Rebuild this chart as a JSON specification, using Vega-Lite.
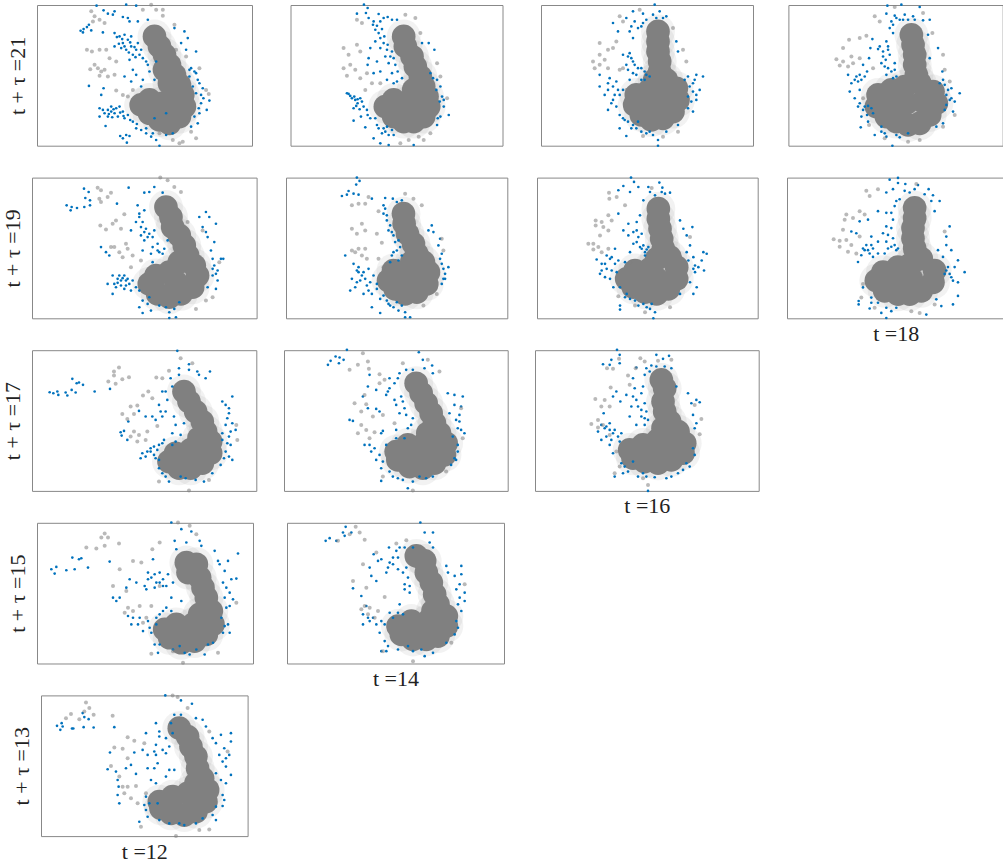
{"$schema":"https://vega.github.io/schema/vega-lite/v6.json","padding":{"left":0,"top":2,"right":0,"bottom":0},"background":"white",
"config":{"view":{"stroke":"#888888"},"axis":{"labels":false,"ticks":false,"domain":false,"grid":false,"titleFont":"Liberation Serif","titleFontSize":22,"titleFontWeight":"normal","titleColor":"#222222"},"axisX":{"titlePadding":5},"axisY":{"titlePadding":8},"style":{"halo":{"size":1150,"opacity":0.1,"color":"#808080"},"core":{"size":560,"opacity":1,"color":"#808080"},"blue":{"size":7,"opacity":1,"color":"#0072BD"},"grey":{"size":16,"opacity":0.55,"color":"#808080"}}},
"datasets":{
"c1":[{"x":465,"y":110},{"x":480,"y":140},{"x":495,"y":165},{"x":510,"y":195},{"x":525,"y":225},{"x":540,"y":255},{"x":550,"y":285},{"x":555,"y":320},{"x":540,"y":350},{"x":510,"y":370},{"x":480,"y":360},{"x":450,"y":340},{"x":425,"y":315},{"x":450,"y":300},{"x":490,"y":310},{"x":520,"y":300},{"x":510,"y":250},{"x":495,"y":210},{"x":515,"y":330}],
"b1":[{"x":243,"y":93},{"x":252,"y":88},{"x":268,"y":75},{"x":275,"y":92},{"x":250,"y":98},{"x":262,"y":82},{"x":310,"y":98},{"x":291,"y":18},{"x":380,"y":15},{"x":410,"y":18},{"x":312,"y":32},{"x":325,"y":42},{"x":345,"y":35},{"x":340,"y":45},{"x":370,"y":52},{"x":385,"y":55},{"x":390,"y":65},{"x":415,"y":65},{"x":445,"y":60},{"x":345,"y":100},{"x":360,"y":110},{"x":375,"y":105},{"x":385,"y":120},{"x":370,"y":130},{"x":395,"y":140},{"x":410,"y":150},{"x":380,"y":150},{"x":365,"y":145},{"x":420,"y":165},{"x":400,"y":165},{"x":430,"y":175},{"x":390,"y":180},{"x":345,"y":140},{"x":415,"y":130},{"x":440,"y":185},{"x":400,"y":210},{"x":410,"y":225},{"x":430,"y":240},{"x":450,"y":215},{"x":465,"y":240},{"x":395,"y":245},{"x":425,"y":260},{"x":445,"y":195},{"x":470,"y":185},{"x":375,"y":230},{"x":268,"y":258},{"x":312,"y":265},{"x":305,"y":285},{"x":525,"y":85},{"x":555,"y":95},{"x":565,"y":115},{"x":545,"y":130},{"x":560,"y":150},{"x":590,"y":155},{"x":575,"y":205},{"x":590,"y":220},{"x":600,"y":250},{"x":610,"y":265},{"x":590,"y":280},{"x":630,"y":302},{"x":605,"y":310},{"x":622,"y":330},{"x":600,"y":340},{"x":595,"y":370},{"x":570,"y":230},{"x":580,"y":260},{"x":300,"y":325},{"x":315,"y":340},{"x":325,"y":330},{"x":335,"y":320},{"x":350,"y":325},{"x":345,"y":340},{"x":360,"y":320},{"x":370,"y":335},{"x":355,"y":350},{"x":300,"y":350},{"x":325,"y":350},{"x":318,"y":378},{"x":385,"y":345},{"x":400,"y":365},{"x":410,"y":385},{"x":375,"y":355},{"x":362,"y":408},{"x":380,"y":405},{"x":390,"y":408},{"x":382,"y":428},{"x":370,"y":415},{"x":440,"y":400},{"x":455,"y":410},{"x":470,"y":420},{"x":480,"y":437},{"x":500,"y":405},{"x":520,"y":400},{"x":465,"y":355},{"x":500,"y":340},{"x":352,"y":112},{"x":368,"y":118},{"x":392,"y":128},{"x":405,"y":142},{"x":375,"y":140},{"x":388,"y":158},{"x":408,"y":172},{"x":425,"y":150},{"x":358,"y":132},{"x":395,"y":110},{"x":335,"y":335},{"x":342,"y":328},{"x":310,"y":330},{"x":328,"y":342},{"x":338,"y":352},{"x":362,"y":338},{"x":372,"y":348},{"x":392,"y":360},{"x":412,"y":372},{"x":425,"y":390},{"x":440,"y":385},{"x":460,"y":400},{"x":585,"y":215},{"x":595,"y":240},{"x":605,"y":285},{"x":612,"y":295},{"x":598,"y":325},{"x":585,"y":350},{"x":575,"y":380},{"x":570,"y":210}],
"g1":[{"x":275,"y":35},{"x":285,"y":50},{"x":300,"y":60},{"x":315,"y":70},{"x":280,"y":65},{"x":455,"y":15},{"x":430,"y":30},{"x":470,"y":30},{"x":490,"y":30},{"x":490,"y":48},{"x":525,"y":75},{"x":262,"y":150},{"x":277,"y":155},{"x":300,"y":150},{"x":320,"y":150},{"x":285,"y":195},{"x":295,"y":205},{"x":305,"y":215},{"x":325,"y":230},{"x":345,"y":225},{"x":350,"y":185},{"x":330,"y":175},{"x":272,"y":208},{"x":350,"y":272},{"x":370,"y":285},{"x":385,"y":290},{"x":400,"y":270},{"x":530,"y":150},{"x":560,"y":170},{"x":600,"y":205},{"x":620,"y":270},{"x":628,"y":282},{"x":550,"y":425},{"x":590,"y":415},{"x":575,"y":395},{"x":520,"y":420},{"x":540,"y":430},{"x":480,"y":400},{"x":300,"y":228},{"x":315,"y":210}],
"c2":[{"x":370,"y":110},{"x":375,"y":140},{"x":395,"y":170},{"x":405,"y":200},{"x":420,"y":230},{"x":430,"y":260},{"x":440,"y":290},{"x":445,"y":320},{"x":430,"y":350},{"x":400,"y":365},{"x":370,"y":365},{"x":340,"y":350},{"x":315,"y":320},{"x":340,"y":300},{"x":380,"y":310},{"x":400,"y":270},{"x":405,"y":330}],
"b2":[{"x":251,"y":15},{"x":262,"y":25},{"x":230,"y":42},{"x":257,"y":40},{"x":295,"y":43},{"x":265,"y":55},{"x":322,"y":52},{"x":350,"y":60},{"x":300,"y":65},{"x":285,"y":90},{"x":295,"y":100},{"x":285,"y":125},{"x":300,"y":115},{"x":310,"y":130},{"x":300,"y":145},{"x":320,"y":150},{"x":330,"y":170},{"x":325,"y":190},{"x":345,"y":195},{"x":335,"y":220},{"x":350,"y":245},{"x":320,"y":240},{"x":365,"y":235},{"x":270,"y":145},{"x":265,"y":175},{"x":290,"y":185},{"x":280,"y":220},{"x":300,"y":215},{"x":262,"y":195},{"x":445,"y":130},{"x":462,"y":150},{"x":425,"y":130},{"x":205,"y":282},{"x":200,"y":280},{"x":215,"y":295},{"x":225,"y":300},{"x":240,"y":295},{"x":232,"y":310},{"x":250,"y":320},{"x":220,"y":325},{"x":260,"y":330},{"x":242,"y":350},{"x":270,"y":355},{"x":220,"y":362},{"x":255,"y":382},{"x":280,"y":415},{"x":300,"y":430},{"x":325,"y":435},{"x":400,"y":435},{"x":290,"y":375},{"x":310,"y":385},{"x":325,"y":405},{"x":305,"y":400},{"x":335,"y":390},{"x":470,"y":375},{"x":480,"y":350},{"x":505,"y":345},{"x":490,"y":320},{"x":485,"y":290},{"x":470,"y":240},{"x":480,"y":260},{"x":450,"y":220},{"x":290,"y":78},{"x":305,"y":88},{"x":312,"y":110},{"x":322,"y":135},{"x":335,"y":155},{"x":315,"y":170},{"x":340,"y":175},{"x":352,"y":215},{"x":340,"y":250},{"x":210,"y":288},{"x":222,"y":290},{"x":232,"y":298},{"x":245,"y":305},{"x":228,"y":318},{"x":238,"y":328},{"x":262,"y":345},{"x":285,"y":355},{"x":295,"y":385},{"x":315,"y":395},{"x":320,"y":380},{"x":340,"y":405},{"x":490,"y":300},{"x":478,"y":305},{"x":468,"y":270},{"x":458,"y":235},{"x":472,"y":355},{"x":280,"y":65},{"x":310,"y":55},{"x":335,"y":60},{"x":278,"y":75}],
"g2":[{"x":230,"y":60},{"x":245,"y":70},{"x":375,"y":45},{"x":405,"y":55},{"x":420,"y":100},{"x":190,"y":145},{"x":205,"y":165},{"x":230,"y":135},{"x":240,"y":155},{"x":190,"y":205},{"x":210,"y":195},{"x":225,"y":210},{"x":240,"y":235},{"x":200,"y":228},{"x":260,"y":220},{"x":275,"y":250},{"x":300,"y":250},{"x":255,"y":270},{"x":470,"y":190},{"x":500,"y":295},{"x":430,"y":420},{"x":415,"y":410},{"x":360,"y":430},{"x":385,"y":420},{"x":480,"y":230},{"x":450,"y":400}],
"c3":[{"x":1135,"y":95},{"x":1135,"y":125},{"x":1135,"y":155},{"x":1140,"y":185},{"x":1140,"y":215},{"x":1160,"y":240},{"x":1190,"y":265},{"x":1195,"y":300},{"x":1180,"y":335},{"x":1150,"y":355},{"x":1115,"y":360},{"x":1085,"y":345},{"x":1065,"y":315},{"x":1070,"y":285},{"x":1110,"y":270},{"x":1125,"y":240},{"x":1140,"y":300},{"x":1110,"y":320}],
"b3":[{"x":1125,"y":15},{"x":1140,"y":35},{"x":1060,"y":35},{"x":1090,"y":42},{"x":1120,"y":45},{"x":1160,"y":50},{"x":1000,"y":70},{"x":1040,"y":55},{"x":1015,"y":95},{"x":1055,"y":80},{"x":1085,"y":80},{"x":1100,"y":60},{"x":1150,"y":55},{"x":1060,"y":115},{"x":1050,"y":160},{"x":1030,"y":165},{"x":1060,"y":185},{"x":1040,"y":195},{"x":1075,"y":205},{"x":1095,"y":215},{"x":1110,"y":230},{"x":1085,"y":240},{"x":1060,"y":220},{"x":1050,"y":240},{"x":960,"y":225},{"x":990,"y":235},{"x":1010,"y":245},{"x":960,"y":260},{"x":985,"y":270},{"x":975,"y":285},{"x":1005,"y":285},{"x":1030,"y":270},{"x":995,"y":310},{"x":985,"y":330},{"x":1010,"y":320},{"x":1020,"y":345},{"x":1035,"y":360},{"x":1060,"y":375},{"x":1075,"y":365},{"x":1020,"y":385},{"x":1040,"y":408},{"x":1100,"y":400},{"x":1120,"y":405},{"x":1135,"y":420},{"x":1135,"y":437},{"x":1160,"y":395},{"x":1195,"y":375},{"x":1240,"y":335},{"x":1225,"y":325},{"x":1250,"y":300},{"x":1260,"y":270},{"x":1270,"y":230},{"x":1250,"y":225},{"x":1240,"y":250},{"x":1225,"y":290},{"x":1215,"y":240},{"x":1190,"y":125},{"x":1195,"y":155},{"x":1045,"y":170},{"x":1055,"y":175},{"x":1065,"y":195},{"x":1085,"y":205},{"x":1070,"y":225},{"x":1100,"y":225},{"x":1095,"y":240},{"x":1045,"y":210},{"x":985,"y":250},{"x":1000,"y":260},{"x":1015,"y":270},{"x":1000,"y":300},{"x":1030,"y":355},{"x":1045,"y":365},{"x":1055,"y":385},{"x":1070,"y":385},{"x":1085,"y":395},{"x":1110,"y":395},{"x":1230,"y":260},{"x":1240,"y":275},{"x":1250,"y":285},{"x":1235,"y":305},{"x":1245,"y":240},{"x":1225,"y":230},{"x":1075,"y":85},{"x":1090,"y":70},{"x":1130,"y":55},{"x":1065,"y":65},{"x":1050,"y":95},{"x":1020,"y":285}],
"g3":[{"x":1020,"y":50},{"x":1030,"y":65},{"x":1080,"y":30},{"x":960,"y":130},{"x":985,"y":150},{"x":1000,"y":145},{"x":960,"y":165},{"x":940,"y":185},{"x":960,"y":195},{"x":985,"y":205},{"x":975,"y":180},{"x":945,"y":205},{"x":1020,"y":210},{"x":1010,"y":125},{"x":1030,"y":205},{"x":1210,"y":150},{"x":1220,"y":185},{"x":1180,"y":85},{"x":1090,"y":408},{"x":1150,"y":410},{"x":1195,"y":395},{"x":1040,"y":270}],
"c4":[{"x":395,"y":105},{"x":400,"y":135},{"x":405,"y":165},{"x":405,"y":195},{"x":410,"y":225},{"x":420,"y":250},{"x":460,"y":275},{"x":470,"y":310},{"x":450,"y":345},{"x":420,"y":370},{"x":385,"y":375},{"x":350,"y":365},{"x":320,"y":350},{"x":290,"y":320},{"x":295,"y":285},{"x":335,"y":270},{"x":375,"y":260},{"x":380,"y":310},{"x":430,"y":305},{"x":335,"y":315}],
"b4":[{"x":323,"y":18},{"x":365,"y":15},{"x":420,"y":22},{"x":320,"y":42},{"x":345,"y":48},{"x":375,"y":45},{"x":335,"y":65},{"x":360,"y":60},{"x":405,"y":60},{"x":430,"y":62},{"x":450,"y":60},{"x":330,"y":85},{"x":340,"y":100},{"x":320,"y":125},{"x":300,"y":140},{"x":310,"y":155},{"x":330,"y":165},{"x":272,"y":145},{"x":295,"y":148},{"x":318,"y":180},{"x":345,"y":190},{"x":335,"y":215},{"x":320,"y":225},{"x":350,"y":230},{"x":278,"y":118},{"x":268,"y":175},{"x":250,"y":195},{"x":230,"y":230},{"x":205,"y":225},{"x":245,"y":240},{"x":262,"y":215},{"x":215,"y":250},{"x":210,"y":275},{"x":240,"y":270},{"x":225,"y":295},{"x":235,"y":320},{"x":250,"y":330},{"x":275,"y":325},{"x":245,"y":350},{"x":265,"y":365},{"x":243,"y":382},{"x":285,"y":405},{"x":305,"y":395},{"x":320,"y":410},{"x":360,"y":412},{"x":338,"y":437},{"x":385,"y":400},{"x":495,"y":255},{"x":515,"y":265},{"x":540,"y":280},{"x":515,"y":295},{"x":525,"y":305},{"x":520,"y":335},{"x":500,"y":315},{"x":475,"y":145},{"x":445,"y":105},{"x":450,"y":175},{"x":490,"y":370},{"x":470,"y":380},{"x":490,"y":240},{"x":488,"y":215},{"x":325,"y":140},{"x":310,"y":170},{"x":325,"y":150},{"x":305,"y":190},{"x":325,"y":205},{"x":345,"y":210},{"x":315,"y":200},{"x":340,"y":235},{"x":240,"y":225},{"x":225,"y":240},{"x":235,"y":245},{"x":255,"y":230},{"x":240,"y":310},{"x":255,"y":320},{"x":265,"y":318},{"x":280,"y":340},{"x":262,"y":345},{"x":305,"y":380},{"x":315,"y":400},{"x":350,"y":405},{"x":500,"y":285},{"x":510,"y":300},{"x":495,"y":330},{"x":505,"y":270},{"x":480,"y":250},{"x":400,"y":50},{"x":385,"y":60},{"x":350,"y":55},{"x":340,"y":75},{"x":370,"y":60}],
"g4":[{"x":285,"y":50},{"x":300,"y":65},{"x":345,"y":22},{"x":430,"y":40},{"x":458,"y":100},{"x":208,"y":120},{"x":240,"y":115},{"x":260,"y":108},{"x":190,"y":145},{"x":170,"y":178},{"x":190,"y":185},{"x":205,"y":200},{"x":180,"y":197},{"x":220,"y":190},{"x":215,"y":170},{"x":240,"y":175},{"x":280,"y":205},{"x":490,"y":165},{"x":495,"y":210},{"x":510,"y":245},{"x":385,"y":425},{"x":420,"y":420},{"x":315,"y":415},{"x":490,"y":380},{"x":525,"y":345},{"x":250,"y":295},{"x":268,"y":375}],
"c5":[{"x":500,"y":105},{"x":515,"y":135},{"x":520,"y":165},{"x":540,"y":190},{"x":555,"y":220},{"x":565,"y":250},{"x":585,"y":280},{"x":595,"y":310},{"x":580,"y":345},{"x":545,"y":365},{"x":510,"y":375},{"x":475,"y":365},{"x":450,"y":335},{"x":470,"y":310},{"x":510,"y":300},{"x":540,"y":270},{"x":530,"y":330}],
"b5":[{"x":254,"y":50},{"x":268,"y":60},{"x":258,"y":78},{"x":272,"y":85},{"x":202,"y":100},{"x":217,"y":105},{"x":214,"y":115},{"x":233,"y":108},{"x":255,"y":105},{"x":272,"y":100},{"x":353,"y":95},{"x":388,"y":47},{"x":435,"y":62},{"x":465,"y":45},{"x":450,"y":60},{"x":490,"y":62},{"x":415,"y":100},{"x":435,"y":115},{"x":410,"y":150},{"x":425,"y":165},{"x":435,"y":180},{"x":450,"y":185},{"x":395,"y":175},{"x":435,"y":205},{"x":460,"y":195},{"x":475,"y":215},{"x":430,"y":235},{"x":455,"y":245},{"x":480,"y":240},{"x":495,"y":230},{"x":505,"y":205},{"x":460,"y":270},{"x":620,"y":120},{"x":630,"y":135},{"x":650,"y":155},{"x":600,"y":135},{"x":620,"y":180},{"x":645,"y":210},{"x":665,"y":260},{"x":672,"y":260},{"x":640,"y":290},{"x":650,"y":305},{"x":655,"y":325},{"x":650,"y":350},{"x":625,"y":345},{"x":305,"y":225},{"x":320,"y":240},{"x":330,"y":250},{"x":340,"y":310},{"x":355,"y":320},{"x":375,"y":310},{"x":385,"y":320},{"x":400,"y":325},{"x":345,"y":335},{"x":325,"y":335},{"x":365,"y":340},{"x":340,"y":365},{"x":395,"y":355},{"x":380,"y":340},{"x":420,"y":355},{"x":420,"y":405},{"x":445,"y":395},{"x":430,"y":422},{"x":455,"y":415},{"x":510,"y":437},{"x":530,"y":435},{"x":480,"y":400},{"x":510,"y":420},{"x":540,"y":390},{"x":420,"y":135},{"x":430,"y":150},{"x":440,"y":170},{"x":445,"y":195},{"x":465,"y":175},{"x":425,"y":190},{"x":475,"y":235},{"x":490,"y":245},{"x":460,"y":225},{"x":420,"y":125},{"x":360,"y":310},{"x":370,"y":318},{"x":380,"y":325},{"x":390,"y":335},{"x":355,"y":332},{"x":365,"y":325},{"x":375,"y":350},{"x":350,"y":345},{"x":410,"y":345},{"x":430,"y":385},{"x":450,"y":375},{"x":640,"y":260},{"x":645,"y":280},{"x":655,"y":295},{"x":640,"y":310},{"x":635,"y":235},{"x":610,"y":165},{"x":625,"y":195},{"x":500,"y":405},{"x":525,"y":410}],
"g5":[{"x":483,"y":17},{"x":505,"y":25},{"x":525,"y":45},{"x":545,"y":60},{"x":295,"y":47},{"x":305,"y":55},{"x":335,"y":62},{"x":300,"y":80},{"x":325,"y":75},{"x":305,"y":90},{"x":375,"y":127},{"x":350,"y":145},{"x":303,"y":160},{"x":320,"y":172},{"x":340,"y":155},{"x":365,"y":170},{"x":345,"y":225},{"x":360,"y":240},{"x":335,"y":225},{"x":370,"y":255},{"x":385,"y":230},{"x":400,"y":250},{"x":425,"y":265},{"x":395,"y":285},{"x":380,"y":215},{"x":590,"y":410},{"x":620,"y":385},{"x":640,"y":375},{"x":565,"y":150},{"x":610,"y":175},{"x":660,"y":270}],
"c6":[{"x":1210,"y":125},{"x":1212,"y":155},{"x":1222,"y":185},{"x":1240,"y":215},{"x":1250,"y":245},{"x":1270,"y":270},{"x":1285,"y":300},{"x":1280,"y":335},{"x":1250,"y":360},{"x":1215,"y":365},{"x":1185,"y":350},{"x":1165,"y":325},{"x":1180,"y":295},{"x":1220,"y":300},{"x":1235,"y":270},{"x":1235,"y":330}],
"b6":[{"x":1070,"y":17},{"x":1078,"y":27},{"x":1068,"y":38},{"x":1045,"y":57},{"x":1025,"y":72},{"x":1040,"y":68},{"x":1060,"y":65},{"x":1075,"y":68},{"x":1115,"y":80},{"x":1155,"y":78},{"x":1178,"y":80},{"x":1150,"y":125},{"x":1160,"y":145},{"x":1165,"y":175},{"x":1180,"y":190},{"x":1195,"y":205},{"x":1180,"y":240},{"x":1205,"y":250},{"x":1195,"y":265},{"x":1170,"y":270},{"x":1295,"y":160},{"x":1285,"y":175},{"x":1320,"y":200},{"x":1345,"y":285},{"x":1325,"y":275},{"x":1330,"y":320},{"x":1335,"y":305},{"x":1035,"y":250},{"x":1060,"y":275},{"x":1075,"y":285},{"x":1090,"y":300},{"x":1105,"y":290},{"x":1120,"y":310},{"x":1055,"y":320},{"x":1080,"y":325},{"x":1100,"y":340},{"x":1065,"y":345},{"x":1050,"y":355},{"x":1090,"y":365},{"x":1115,"y":365},{"x":1130,"y":350},{"x":1140,"y":380},{"x":1160,"y":385},{"x":1115,"y":405},{"x":1140,"y":422},{"x":1170,"y":400},{"x":1195,"y":415},{"x":1215,"y":435},{"x":1230,"y":435},{"x":1190,"y":390},{"x":1325,"y":335},{"x":1155,"y":110},{"x":1160,"y":130},{"x":1170,"y":160},{"x":1175,"y":180},{"x":1185,"y":210},{"x":1190,"y":235},{"x":1200,"y":225},{"x":1175,"y":250},{"x":1070,"y":295},{"x":1085,"y":310},{"x":1075,"y":300},{"x":1095,"y":320},{"x":1110,"y":330},{"x":1130,"y":335},{"x":1070,"y":330},{"x":1105,"y":355},{"x":1150,"y":370},{"x":1165,"y":395},{"x":1180,"y":405},{"x":1205,"y":400},{"x":1215,"y":420},{"x":1320,"y":260},{"x":1330,"y":290},{"x":1335,"y":320},{"x":1300,"y":180},{"x":1315,"y":220},{"x":1325,"y":245},{"x":1150,"y":100},{"x":1190,"y":90},{"x":1205,"y":85}],
"g6":[{"x":1055,"y":100},{"x":1075,"y":95},{"x":1095,"y":95},{"x":1105,"y":75},{"x":1215,"y":65},{"x":1240,"y":80},{"x":1135,"y":118},{"x":1085,"y":155},{"x":1055,"y":170},{"x":1070,"y":185},{"x":1095,"y":175},{"x":1130,"y":185},{"x":1145,"y":212},{"x":1055,"y":235},{"x":1075,"y":230},{"x":1095,"y":230},{"x":1085,"y":250},{"x":1100,"y":260},{"x":1065,"y":240},{"x":1135,"y":260},{"x":1150,"y":285},{"x":1265,"y":100},{"x":1325,"y":200},{"x":1330,"y":235},{"x":1270,"y":400},{"x":1310,"y":365}],
"c7":[{"x":385,"y":110},{"x":385,"y":140},{"x":390,"y":170},{"x":395,"y":200},{"x":400,"y":230},{"x":420,"y":255},{"x":440,"y":285},{"x":440,"y":320},{"x":415,"y":350},{"x":380,"y":365},{"x":345,"y":360},{"x":310,"y":345},{"x":290,"y":320},{"x":315,"y":295},{"x":360,"y":290},{"x":380,"y":260},{"x":380,"y":320},{"x":340,"y":325}],
"b7":[{"x":303,"y":17},{"x":312,"y":30},{"x":280,"y":42},{"x":265,"y":55},{"x":300,"y":60},{"x":325,"y":45},{"x":355,"y":45},{"x":388,"y":32},{"x":397,"y":47},{"x":420,"y":62},{"x":375,"y":70},{"x":340,"y":85},{"x":265,"y":125},{"x":295,"y":155},{"x":310,"y":180},{"x":295,"y":190},{"x":280,"y":175},{"x":325,"y":195},{"x":310,"y":215},{"x":335,"y":230},{"x":345,"y":240},{"x":330,"y":225},{"x":300,"y":240},{"x":255,"y":230},{"x":240,"y":260},{"x":200,"y":262},{"x":225,"y":275},{"x":255,"y":275},{"x":215,"y":295},{"x":245,"y":295},{"x":225,"y":315},{"x":210,"y":305},{"x":240,"y":320},{"x":250,"y":345},{"x":270,"y":345},{"x":285,"y":375},{"x":300,"y":380},{"x":270,"y":400},{"x":270,"y":412},{"x":325,"y":400},{"x":360,"y":410},{"x":375,"y":420},{"x":370,"y":438},{"x":450,"y":365},{"x":490,"y":365},{"x":500,"y":345},{"x":490,"y":290},{"x":495,"y":280},{"x":515,"y":265},{"x":520,"y":240},{"x":530,"y":245},{"x":522,"y":295},{"x":450,"y":145},{"x":487,"y":165},{"x":470,"y":190},{"x":480,"y":220},{"x":470,"y":240},{"x":320,"y":175},{"x":335,"y":185},{"x":320,"y":210},{"x":340,"y":220},{"x":350,"y":232},{"x":355,"y":225},{"x":345,"y":250},{"x":320,"y":150},{"x":330,"y":130},{"x":230,"y":250},{"x":245,"y":255},{"x":265,"y":265},{"x":285,"y":270},{"x":230,"y":290},{"x":260,"y":300},{"x":215,"y":275},{"x":290,"y":365},{"x":315,"y":385},{"x":340,"y":395},{"x":350,"y":405},{"x":365,"y":395},{"x":490,"y":255},{"x":495,"y":300},{"x":505,"y":285},{"x":480,"y":330},{"x":475,"y":265},{"x":460,"y":170},{"x":395,"y":60},{"x":405,"y":65},{"x":360,"y":60}],
"g7":[{"x":237,"y":62},{"x":238,"y":80},{"x":260,"y":75},{"x":285,"y":100},{"x":365,"y":48},{"x":197,"y":145},{"x":215,"y":150},{"x":197,"y":160},{"x":235,"y":130},{"x":245,"y":145},{"x":220,"y":165},{"x":235,"y":175},{"x":210,"y":190},{"x":175,"y":215},{"x":190,"y":215},{"x":205,"y":225},{"x":190,"y":232},{"x":215,"y":240},{"x":235,"y":230},{"x":480,"y":195},{"x":420,"y":405},{"x":345,"y":420},{"x":315,"y":400},{"x":265,"y":372},{"x":300,"y":270}],
"c8":[{"x":430,"y":115},{"x":430,"y":145},{"x":425,"y":175},{"x":425,"y":205},{"x":430,"y":235},{"x":450,"y":265},{"x":490,"y":300},{"x":485,"y":335},{"x":450,"y":360},{"x":415,"y":370},{"x":380,"y":370},{"x":340,"y":360},{"x":315,"y":330},{"x":335,"y":305},{"x":380,"y":290},{"x":420,"y":280},{"x":420,"y":325},{"x":375,"y":330}],
"b8":[{"x":355,"y":32},{"x":380,"y":27},{"x":402,"y":45},{"x":345,"y":70},{"x":365,"y":60},{"x":380,"y":42},{"x":415,"y":70},{"x":440,"y":48},{"x":472,"y":60},{"x":485,"y":78},{"x":505,"y":95},{"x":375,"y":95},{"x":385,"y":90},{"x":320,"y":125},{"x":290,"y":150},{"x":265,"y":155},{"x":255,"y":190},{"x":240,"y":185},{"x":345,"y":130},{"x":365,"y":150},{"x":335,"y":190},{"x":300,"y":200},{"x":320,"y":215},{"x":360,"y":230},{"x":375,"y":240},{"x":350,"y":235},{"x":300,"y":225},{"x":280,"y":240},{"x":270,"y":255},{"x":295,"y":250},{"x":320,"y":250},{"x":260,"y":275},{"x":490,"y":125},{"x":535,"y":170},{"x":525,"y":200},{"x":540,"y":240},{"x":550,"y":290},{"x":560,"y":270},{"x":540,"y":320},{"x":580,"y":305},{"x":560,"y":335},{"x":520,"y":310},{"x":560,"y":375},{"x":510,"y":405},{"x":545,"y":400},{"x":495,"y":385},{"x":262,"y":390},{"x":262,"y":400},{"x":295,"y":412},{"x":345,"y":440},{"x":330,"y":425},{"x":360,"y":420},{"x":465,"y":430},{"x":300,"y":380},{"x":275,"y":350},{"x":360,"y":175},{"x":350,"y":195},{"x":365,"y":205},{"x":370,"y":225},{"x":380,"y":235},{"x":345,"y":215},{"x":340,"y":250},{"x":285,"y":225},{"x":290,"y":240},{"x":305,"y":235},{"x":275,"y":235},{"x":305,"y":260},{"x":345,"y":170},{"x":360,"y":130},{"x":370,"y":110},{"x":525,"y":300},{"x":535,"y":310},{"x":545,"y":330},{"x":530,"y":290},{"x":515,"y":260},{"x":525,"y":225},{"x":500,"y":240},{"x":300,"y":395},{"x":320,"y":395},{"x":345,"y":410},{"x":375,"y":410},{"x":400,"y":65},{"x":430,"y":60},{"x":460,"y":75},{"x":480,"y":95}],
"g8":[{"x":285,"y":65},{"x":295,"y":80},{"x":320,"y":60},{"x":435,"y":45},{"x":225,"y":135},{"x":265,"y":125},{"x":220,"y":150},{"x":245,"y":145},{"x":280,"y":135},{"x":215,"y":180},{"x":187,"y":208},{"x":205,"y":212},{"x":225,"y":210},{"x":240,"y":225},{"x":205,"y":230},{"x":230,"y":245},{"x":265,"y":200},{"x":255,"y":250},{"x":520,"y":185},{"x":275,"y":340},{"x":270,"y":380},{"x":310,"y":410},{"x":420,"y":420},{"x":445,"y":425},{"x":490,"y":400}],
"c9":[{"x":555,"y":140},{"x":570,"y":170},{"x":590,"y":200},{"x":610,"y":230},{"x":620,"y":260},{"x":635,"y":290},{"x":635,"y":325},{"x":610,"y":355},{"x":575,"y":370},{"x":540,"y":370},{"x":510,"y":350},{"x":530,"y":325},{"x":575,"y":315},{"x":600,"y":280},{"x":590,"y":335}],
"b9":[{"x":535,"y":18},{"x":152,"y":142},{"x":163,"y":145},{"x":175,"y":140},{"x":178,"y":150},{"x":200,"y":143},{"x":205,"y":152},{"x":218,"y":135},{"x":230,"y":143},{"x":220,"y":102},{"x":233,"y":115},{"x":240,"y":113},{"x":252,"y":120},{"x":287,"y":140},{"x":333,"y":132},{"x":365,"y":262},{"x":375,"y":258},{"x":368,"y":272},{"x":385,"y":285},{"x":388,"y":230},{"x":420,"y":198},{"x":440,"y":215},{"x":460,"y":215},{"x":470,"y":225},{"x":490,"y":215},{"x":490,"y":140},{"x":515,"y":100},{"x":540,"y":70},{"x":570,"y":58},{"x":600,"y":90},{"x":633,"y":80},{"x":430,"y":325},{"x":425,"y":340},{"x":440,"y":335},{"x":455,"y":310},{"x":475,"y":315},{"x":465,"y":330},{"x":480,"y":345},{"x":495,"y":285},{"x":530,"y":240},{"x":555,"y":235},{"x":520,"y":265},{"x":545,"y":270},{"x":525,"y":215},{"x":700,"y":155},{"x":690,"y":190},{"x":670,"y":170},{"x":685,"y":220},{"x":700,"y":235},{"x":710,"y":255},{"x":690,"y":275},{"x":695,"y":300},{"x":680,"y":320},{"x":700,"y":345},{"x":670,"y":265},{"x":490,"y":385},{"x":500,"y":395},{"x":590,"y":405},{"x":640,"y":385},{"x":615,"y":410},{"x":545,"y":395},{"x":455,"y":320},{"x":465,"y":305},{"x":470,"y":340},{"x":445,"y":320},{"x":480,"y":300},{"x":490,"y":295},{"x":500,"y":200},{"x":485,"y":200},{"x":480,"y":180},{"x":505,"y":165},{"x":540,"y":90},{"x":520,"y":125},{"x":500,"y":140},{"x":680,"y":180},{"x":690,"y":205},{"x":680,"y":240},{"x":695,"y":260},{"x":670,"y":285},{"x":685,"y":295},{"x":690,"y":335},{"x":675,"y":340},{"x":665,"y":360},{"x":480,"y":370},{"x":510,"y":410},{"x":560,"y":400},{"x":595,"y":80},{"x":570,"y":75},{"x":620,"y":100},{"x":530,"y":290},{"x":520,"y":300}],
"g9":[{"x":580,"y":55},{"x":545,"y":40},{"x":510,"y":78},{"x":345,"y":80},{"x":360,"y":68},{"x":345,"y":92},{"x":370,"y":103},{"x":328,"y":110},{"x":350,"y":117},{"x":390,"y":97},{"x":472,"y":98},{"x":490,"y":100},{"x":448,"y":140},{"x":432,"y":152},{"x":460,"y":160},{"x":415,"y":182},{"x":395,"y":185},{"x":370,"y":207},{"x":405,"y":207},{"x":385,"y":222},{"x":405,"y":260},{"x":420,"y":270},{"x":440,"y":285},{"x":415,"y":290},{"x":395,"y":275},{"x":445,"y":260},{"x":475,"y":243},{"x":715,"y":285},{"x":570,"y":437},{"x":480,"y":410},{"x":630,"y":405},{"x":712,"y":240}],
"c10":[{"x":1250,"y":115},{"x":1265,"y":145},{"x":1280,"y":175},{"x":1295,"y":205},{"x":1305,"y":235},{"x":1320,"y":265},{"x":1340,"y":295},{"x":1335,"y":330},{"x":1305,"y":355},{"x":1270,"y":370},{"x":1230,"y":365},{"x":1195,"y":345},{"x":1190,"y":320},{"x":1225,"y":300},{"x":1270,"y":300},{"x":1285,"y":265},{"x":1300,"y":330},{"x":1240,"y":335}],
"b10":[{"x":1042,"y":15},{"x":1008,"y":35},{"x":1020,"y":38},{"x":1032,"y":45},{"x":993,"y":48},{"x":985,"y":60},{"x":1018,"y":55},{"x":1258,"y":22},{"x":1270,"y":45},{"x":1298,"y":62},{"x":1110,"y":90},{"x":1105,"y":125},{"x":1130,"y":135},{"x":1090,"y":155},{"x":1160,"y":150},{"x":1195,"y":100},{"x":1240,"y":75},{"x":1170,"y":130},{"x":1185,"y":165},{"x":1210,"y":170},{"x":1215,"y":190},{"x":1240,"y":220},{"x":1235,"y":240},{"x":1200,"y":205},{"x":1105,"y":190},{"x":1130,"y":192},{"x":1050,"y":225},{"x":1060,"y":228},{"x":1150,"y":258},{"x":1190,"y":255},{"x":1215,"y":280},{"x":1130,"y":345},{"x":1115,"y":320},{"x":1095,"y":300},{"x":1160,"y":300},{"x":1145,"y":370},{"x":1145,"y":408},{"x":1195,"y":400},{"x":1225,"y":430},{"x":1260,"y":395},{"x":1300,"y":395},{"x":1365,"y":340},{"x":1390,"y":155},{"x":1385,"y":185},{"x":1365,"y":150},{"x":1345,"y":145},{"x":1350,"y":205},{"x":1380,"y":230},{"x":1395,"y":265},{"x":1375,"y":250},{"x":1360,"y":275},{"x":1375,"y":320},{"x":1170,"y":100},{"x":1185,"y":115},{"x":1165,"y":140},{"x":1205,"y":155},{"x":1190,"y":180},{"x":1220,"y":210},{"x":1225,"y":250},{"x":1140,"y":200},{"x":1190,"y":280},{"x":1145,"y":265},{"x":1125,"y":310},{"x":1110,"y":300},{"x":1140,"y":330},{"x":1150,"y":350},{"x":1170,"y":380},{"x":1180,"y":395},{"x":1210,"y":405},{"x":1240,"y":410},{"x":1280,"y":400},{"x":1380,"y":210},{"x":1365,"y":180},{"x":1370,"y":225},{"x":1385,"y":255},{"x":1375,"y":300},{"x":1370,"y":345},{"x":1355,"y":360},{"x":1200,"y":85},{"x":1220,"y":75},{"x":1275,"y":70},{"x":1300,"y":85}],
"g10":[{"x":1090,"y":25},{"x":1105,"y":50},{"x":1075,"y":60},{"x":1050,"y":75},{"x":1108,"y":72},{"x":1140,"y":88},{"x":1155,"y":105},{"x":1140,"y":115},{"x":1095,"y":150},{"x":1065,"y":175},{"x":1100,"y":178},{"x":1085,"y":200},{"x":1120,"y":215},{"x":1150,"y":210},{"x":1085,"y":240},{"x":1100,"y":255},{"x":1075,"y":265},{"x":1125,"y":262},{"x":1110,"y":280},{"x":1185,"y":235},{"x":1210,"y":55},{"x":1285,"y":45},{"x":1320,"y":80},{"x":1385,"y":190},{"x":1390,"y":280},{"x":1240,"y":437},{"x":1150,"y":395},{"x":1340,"y":380}],
"c11":[{"x":395,"y":105},{"x":405,"y":130},{"x":400,"y":170},{"x":405,"y":200},{"x":420,"y":230},{"x":445,"y":260},{"x":465,"y":295},{"x":460,"y":325},{"x":425,"y":345},{"x":385,"y":355},{"x":345,"y":350},{"x":310,"y":340},{"x":300,"y":315},{"x":340,"y":300},{"x":385,"y":285},{"x":400,"y":250},{"x":410,"y":315},{"x":360,"y":325}],
"b11":[{"x":262,"y":15},{"x":270,"y":30},{"x":245,"y":45},{"x":220,"y":58},{"x":240,"y":60},{"x":270,"y":55},{"x":320,"y":68},{"x":350,"y":70},{"x":345,"y":90},{"x":380,"y":30},{"x":400,"y":42},{"x":418,"y":33},{"x":365,"y":62},{"x":310,"y":100},{"x":250,"y":155},{"x":260,"y":140},{"x":272,"y":170},{"x":290,"y":150},{"x":305,"y":185},{"x":315,"y":130},{"x":340,"y":125},{"x":320,"y":165},{"x":350,"y":200},{"x":335,"y":215},{"x":345,"y":240},{"x":320,"y":240},{"x":300,"y":215},{"x":222,"y":205},{"x":240,"y":235},{"x":225,"y":250},{"x":205,"y":260},{"x":255,"y":255},{"x":275,"y":265},{"x":215,"y":285},{"x":240,"y":300},{"x":250,"y":325},{"x":270,"y":290},{"x":255,"y":395},{"x":285,"y":365},{"x":310,"y":350},{"x":325,"y":395},{"x":375,"y":397},{"x":355,"y":438},{"x":410,"y":400},{"x":460,"y":375},{"x":480,"y":365},{"x":495,"y":330},{"x":500,"y":235},{"x":510,"y":172},{"x":485,"y":175},{"x":500,"y":165},{"x":440,"y":125},{"x":335,"y":145},{"x":325,"y":185},{"x":345,"y":175},{"x":335,"y":195},{"x":345,"y":220},{"x":355,"y":225},{"x":310,"y":155},{"x":215,"y":240},{"x":230,"y":245},{"x":240,"y":255},{"x":250,"y":265},{"x":265,"y":275},{"x":230,"y":275},{"x":245,"y":285},{"x":275,"y":355},{"x":280,"y":385},{"x":295,"y":380},{"x":340,"y":385},{"x":350,"y":395},{"x":425,"y":395},{"x":445,"y":385},{"x":470,"y":355},{"x":490,"y":310},{"x":495,"y":250},{"x":490,"y":210},{"x":475,"y":145},{"x":380,"y":65},{"x":405,"y":65},{"x":425,"y":70},{"x":360,"y":80}],
"g11":[{"x":232,"y":70},{"x":250,"y":72},{"x":268,"y":42},{"x":332,"y":40},{"x":345,"y":50},{"x":385,"y":48},{"x":425,"y":45},{"x":318,"y":70},{"x":295,"y":92},{"x":300,"y":120},{"x":243,"y":128},{"x":197,"y":162},{"x":225,"y":165},{"x":240,"y":185},{"x":215,"y":185},{"x":185,"y":237},{"x":205,"y":225},{"x":220,"y":240},{"x":205,"y":248},{"x":240,"y":270},{"x":260,"y":320},{"x":255,"y":385},{"x":270,"y":365},{"x":355,"y":420},{"x":515,"y":222},{"x":510,"y":268},{"x":495,"y":180},{"x":340,"y":400}],
"c12":[{"x":560,"y":135},{"x":590,"y":140},{"x":600,"y":180},{"x":610,"y":210},{"x":620,"y":240},{"x":635,"y":280},{"x":640,"y":320},{"x":620,"y":350},{"x":585,"y":370},{"x":545,"y":375},{"x":510,"y":360},{"x":495,"y":335},{"x":530,"y":320},{"x":580,"y":320},{"x":600,"y":290},{"x":565,"y":165}],
"b12":[{"x":515,"y":15},{"x":545,"y":35},{"x":575,"y":42},{"x":155,"y":155},{"x":165,"y":168},{"x":170,"y":148},{"x":200,"y":158},{"x":225,"y":155},{"x":218,"y":120},{"x":238,"y":125},{"x":245,"y":122},{"x":265,"y":150},{"x":330,"y":132},{"x":340,"y":240},{"x":350,"y":250},{"x":360,"y":240},{"x":380,"y":210},{"x":410,"y":195},{"x":390,"y":185},{"x":445,"y":165},{"x":460,"y":125},{"x":445,"y":185},{"x":470,"y":195},{"x":490,"y":205},{"x":440,"y":215},{"x":480,"y":165},{"x":505,"y":170},{"x":520,"y":195},{"x":525,"y":70},{"x":605,"y":85},{"x":645,"y":100},{"x":715,"y":108},{"x":660,"y":140},{"x":685,"y":130},{"x":695,"y":185},{"x":710,"y":183},{"x":680,"y":210},{"x":700,"y":245},{"x":675,"y":240},{"x":690,"y":265},{"x":665,"y":300},{"x":685,"y":320},{"x":690,"y":345},{"x":385,"y":295},{"x":395,"y":320},{"x":420,"y":300},{"x":430,"y":340},{"x":455,"y":345},{"x":470,"y":320},{"x":490,"y":280},{"x":515,"y":280},{"x":545,"y":250},{"x":465,"y":380},{"x":475,"y":405},{"x":540,"y":385},{"x":570,"y":410},{"x":615,"y":410},{"x":640,"y":375},{"x":455,"y":180},{"x":465,"y":170},{"x":480,"y":195},{"x":490,"y":185},{"x":465,"y":210},{"x":435,"y":205},{"x":500,"y":205},{"x":515,"y":240},{"x":480,"y":290},{"x":500,"y":270},{"x":470,"y":300},{"x":445,"y":310},{"x":400,"y":300},{"x":415,"y":320},{"x":450,"y":330},{"x":675,"y":160},{"x":670,"y":195},{"x":690,"y":225},{"x":680,"y":270},{"x":675,"y":325},{"x":670,"y":345},{"x":655,"y":130},{"x":530,"y":95},{"x":560,"y":75},{"x":600,"y":70},{"x":480,"y":380},{"x":520,"y":395},{"x":590,"y":395},{"x":555,"y":405},{"x":625,"y":380}],
"g12":[{"x":535,"y":15},{"x":570,"y":25},{"x":590,"y":50},{"x":305,"y":60},{"x":315,"y":48},{"x":325,"y":60},{"x":315,"y":85},{"x":260,"y":90},{"x":290,"y":93},{"x":358,"y":78},{"x":458,"y":95},{"x":480,"y":75},{"x":425,"y":135},{"x":400,"y":130},{"x":360,"y":155},{"x":340,"y":205},{"x":380,"y":220},{"x":385,"y":270},{"x":400,"y":280},{"x":420,"y":265},{"x":375,"y":285},{"x":440,"y":300},{"x":430,"y":315},{"x":455,"y":265},{"x":480,"y":205},{"x":550,"y":435},{"x":520,"y":400},{"x":455,"y":408},{"x":655,"y":405},{"x":710,"y":255}],
"c13":[{"x":1250,"y":115},{"x":1275,"y":130},{"x":1280,"y":165},{"x":1295,"y":195},{"x":1305,"y":230},{"x":1315,"y":260},{"x":1340,"y":295},{"x":1340,"y":325},{"x":1315,"y":355},{"x":1280,"y":365},{"x":1240,"y":365},{"x":1205,"y":350},{"x":1195,"y":325},{"x":1235,"y":310},{"x":1285,"y":310},{"x":1300,"y":280},{"x":1255,"y":340}],
"b13":[{"x":1262,"y":15},{"x":1038,"y":28},{"x":1055,"y":45},{"x":1030,"y":45},{"x":1035,"y":55},{"x":978,"y":70},{"x":990,"y":62},{"x":1010,"y":70},{"x":1275,"y":45},{"x":1300,"y":45},{"x":1168,"y":90},{"x":1122,"y":110},{"x":1145,"y":125},{"x":1190,"y":100},{"x":1215,"y":90},{"x":1165,"y":150},{"x":1110,"y":150},{"x":1180,"y":140},{"x":1210,"y":165},{"x":1115,"y":175},{"x":1130,"y":190},{"x":1060,"y":212},{"x":1085,"y":235},{"x":1225,"y":180},{"x":1215,"y":200},{"x":1230,"y":225},{"x":1200,"y":260},{"x":1090,"y":290},{"x":1110,"y":310},{"x":1090,"y":320},{"x":1130,"y":320},{"x":1140,"y":345},{"x":1155,"y":370},{"x":1145,"y":400},{"x":1155,"y":320},{"x":1180,"y":300},{"x":1210,"y":290},{"x":1240,"y":400},{"x":1275,"y":415},{"x":1300,"y":405},{"x":1385,"y":145},{"x":1385,"y":170},{"x":1340,"y":145},{"x":1380,"y":200},{"x":1395,"y":225},{"x":1395,"y":250},{"x":1375,"y":260},{"x":1385,"y":280},{"x":1375,"y":330},{"x":1365,"y":350},{"x":1195,"y":120},{"x":1200,"y":90},{"x":1180,"y":120},{"x":1170,"y":135},{"x":1195,"y":155},{"x":1220,"y":150},{"x":1135,"y":130},{"x":1160,"y":165},{"x":1230,"y":205},{"x":1215,"y":215},{"x":1100,"y":265},{"x":1105,"y":300},{"x":1120,"y":300},{"x":1145,"y":310},{"x":1170,"y":285},{"x":1195,"y":285},{"x":1165,"y":385},{"x":1195,"y":395},{"x":1225,"y":385},{"x":1265,"y":395},{"x":1340,"y":375},{"x":1370,"y":310},{"x":1380,"y":240},{"x":1370,"y":215},{"x":1365,"y":175},{"x":1345,"y":165},{"x":1290,"y":75},{"x":1300,"y":90},{"x":1240,"y":90},{"x":1160,"y":400}],
"g13":[{"x":1068,"y":28},{"x":1050,"y":50},{"x":1080,"y":45},{"x":1095,"y":67},{"x":1015,"y":70},{"x":1130,"y":105},{"x":1190,"y":78},{"x":1220,"y":68},{"x":1090,"y":140},{"x":1060,"y":190},{"x":1100,"y":210},{"x":1155,"y":238},{"x":1095,"y":265},{"x":1085,"y":275},{"x":1110,"y":270},{"x":1135,"y":280},{"x":1125,"y":300},{"x":1105,"y":290},{"x":1150,"y":400},{"x":1240,"y":430},{"x":1355,"y":375},{"x":1395,"y":200}],
"c14":[{"x":540,"y":145},{"x":565,"y":170},{"x":575,"y":200},{"x":590,"y":230},{"x":595,"y":265},{"x":610,"y":295},{"x":625,"y":330},{"x":620,"y":365},{"x":590,"y":395},{"x":555,"y":405},{"x":515,"y":400},{"x":485,"y":385},{"x":480,"y":365},{"x":520,"y":350},{"x":565,"y":340},{"x":590,"y":310},{"x":590,"y":365}],
"b14":[{"x":498,"y":47},{"x":545,"y":62},{"x":578,"y":72},{"x":173,"y":138},{"x":187,"y":130},{"x":190,"y":140},{"x":183,"y":150},{"x":218,"y":146},{"x":222,"y":146},{"x":250,"y":100},{"x":255,"y":112},{"x":268,"y":118},{"x":253,"y":142},{"x":283,"y":143},{"x":345,"y":142},{"x":332,"y":218},{"x":325,"y":268},{"x":350,"y":275},{"x":380,"y":265},{"x":395,"y":255},{"x":405,"y":218},{"x":410,"y":282},{"x":355,"y":300},{"x":358,"y":320},{"x":355,"y":345},{"x":360,"y":370},{"x":430,"y":210},{"x":445,"y":225},{"x":445,"y":265},{"x":440,"y":160},{"x":470,"y":195},{"x":490,"y":210},{"x":480,"y":170},{"x":500,"y":220},{"x":525,"y":105},{"x":520,"y":160},{"x":610,"y":120},{"x":665,"y":165},{"x":695,"y":160},{"x":695,"y":185},{"x":640,"y":175},{"x":660,"y":225},{"x":680,"y":235},{"x":695,"y":285},{"x":680,"y":260},{"x":650,"y":280},{"x":670,"y":345},{"x":670,"y":378},{"x":440,"y":390},{"x":420,"y":425},{"x":445,"y":410},{"x":475,"y":370},{"x":540,"y":430},{"x":590,"y":430},{"x":650,"y":420},{"x":640,"y":405},{"x":500,"y":290},{"x":525,"y":270},{"x":470,"y":130},{"x":480,"y":155},{"x":500,"y":175},{"x":510,"y":200},{"x":465,"y":215},{"x":470,"y":225},{"x":475,"y":250},{"x":510,"y":270},{"x":455,"y":300},{"x":470,"y":310},{"x":440,"y":350},{"x":450,"y":370},{"x":435,"y":375},{"x":515,"y":130},{"x":545,"y":105},{"x":590,"y":115},{"x":620,"y":140},{"x":650,"y":190},{"x":675,"y":205},{"x":670,"y":245},{"x":690,"y":225},{"x":665,"y":300},{"x":680,"y":310},{"x":675,"y":360},{"x":650,"y":380},{"x":480,"y":420},{"x":510,"y":430},{"x":555,"y":435},{"x":610,"y":415},{"x":465,"y":265}],
"g14":[{"x":260,"y":68},{"x":270,"y":85},{"x":255,"y":95},{"x":215,"y":103},{"x":200,"y":115},{"x":240,"y":118},{"x":283,"y":105},{"x":340,"y":108},{"x":385,"y":172},{"x":405,"y":183},{"x":435,"y":190},{"x":345,"y":203},{"x":370,"y":207},{"x":385,"y":235},{"x":335,"y":258},{"x":360,"y":290},{"x":370,"y":320},{"x":385,"y":320},{"x":410,"y":318},{"x":375,"y":340},{"x":395,"y":355},{"x":415,"y":370},{"x":440,"y":340},{"x":520,"y":47},{"x":535,"y":52},{"x":565,"y":85},{"x":630,"y":155},{"x":685,"y":215},{"x":425,"y":440},{"x":530,"y":468},{"x":630,"y":448},{"x":600,"y":450}]
},
"bounds":"flush","spacing":172.6,
"vconcat":[
{"bounds":"flush","spacing":0,"hconcat":[{"data":{"values":[]},"mark":"point","width":4.6,"height":1,"view":{"stroke":null}},
 {"bounds":"flush","spacing":751.4,"hconcat":[
 {"bounds":"flush","spacing":38.5,"hconcat":[
  {"width":215,"height":140.7,"encoding":{"x":{"field":"x","type":"quantitative","axis":null,"scale":{"domain":[112,758],"nice":false,"zero":false}},"y":{"field":"y","type":"quantitative","axis":{"title":"t + τ =21"},"scale":{"domain":[437,16],"nice":false,"zero":false}}},"layer":[{"data":{"name":"c1"},"mark":{"type":"circle","style":"halo"}},{"data":{"name":"c1"},"mark":{"type":"circle","style":"core"}},{"data":{"name":"b1"},"mark":{"type":"circle","style":"blue"}},{"data":{"name":"g1"},"mark":{"type":"circle","style":"grey"}}]},
  {"width":212,"height":140.7,"encoding":{"x":{"field":"x","type":"quantitative","axis":null,"scale":{"domain":[31,666],"nice":false,"zero":false}},"y":{"field":"y","type":"quantitative","axis":null,"scale":{"domain":[437,16],"nice":false,"zero":false}}},"layer":[{"data":{"name":"c2"},"mark":{"type":"circle","style":"halo"}},{"data":{"name":"c2"},"mark":{"type":"circle","style":"core"}},{"data":{"name":"b2"},"mark":{"type":"circle","style":"blue"}},{"data":{"name":"g2"},"mark":{"type":"circle","style":"grey"}}]},
  {"width":212,"height":140.7,"encoding":{"x":{"field":"x","type":"quantitative","axis":null,"scale":{"domain":[784,1420],"nice":false,"zero":false}},"y":{"field":"y","type":"quantitative","axis":null,"scale":{"domain":[437,16],"nice":false,"zero":false}}},"layer":[{"data":{"name":"c3"},"mark":{"type":"circle","style":"halo"}},{"data":{"name":"c3"},"mark":{"type":"circle","style":"core"}},{"data":{"name":"b3"},"mark":{"type":"circle","style":"blue"}},{"data":{"name":"g3"},"mark":{"type":"circle","style":"grey"}}]}]},
  {"width":214.3,"height":140.7,"encoding":{"x":{"field":"x","type":"quantitative","axis":null,"scale":{"domain":[26,669],"nice":false,"zero":false}},"y":{"field":"y","type":"quantitative","axis":null,"scale":{"domain":[437,16],"nice":false,"zero":false}}},"layer":[{"data":{"name":"c4"},"mark":{"type":"circle","style":"halo"}},{"data":{"name":"c4"},"mark":{"type":"circle","style":"core"}},{"data":{"name":"b4"},"mark":{"type":"circle","style":"blue"}},{"data":{"name":"g4"},"mark":{"type":"circle","style":"grey"}}]}]}]},
{"bounds":"flush","spacing":29,"hconcat":[
  {"width":224.6,"height":140.7,"encoding":{"x":{"field":"x","type":"quantitative","axis":null,"scale":{"domain":[98,772],"nice":false,"zero":false}},"y":{"field":"y","type":"quantitative","axis":{"title":"t + τ =19"},"scale":{"domain":[438,17],"nice":false,"zero":false}}},"layer":[{"data":{"name":"c5"},"mark":{"type":"circle","style":"halo"}},{"data":{"name":"c5"},"mark":{"type":"circle","style":"core"}},{"data":{"name":"b5"},"mark":{"type":"circle","style":"blue"}},{"data":{"name":"g5"},"mark":{"type":"circle","style":"grey"}}]},
  {"width":221.3,"height":140.7,"encoding":{"x":{"field":"x","type":"quantitative","axis":null,"scale":{"domain":[857,1522],"nice":false,"zero":false}},"y":{"field":"y","type":"quantitative","axis":null,"scale":{"domain":[438,17],"nice":false,"zero":false}}},"layer":[{"data":{"name":"c6"},"mark":{"type":"circle","style":"halo"}},{"data":{"name":"c6"},"mark":{"type":"circle","style":"core"}},{"data":{"name":"b6"},"mark":{"type":"circle","style":"blue"}},{"data":{"name":"g6"},"mark":{"type":"circle","style":"grey"}}]},
  {"width":220.7,"height":140.7,"encoding":{"x":{"field":"x","type":"quantitative","axis":null,"scale":{"domain":[21,683],"nice":false,"zero":false}},"y":{"field":"y","type":"quantitative","axis":null,"scale":{"domain":[438,17],"nice":false,"zero":false}}},"layer":[{"data":{"name":"c7"},"mark":{"type":"circle","style":"halo"}},{"data":{"name":"c7"},"mark":{"type":"circle","style":"core"}},{"data":{"name":"b7"},"mark":{"type":"circle","style":"blue"}},{"data":{"name":"g7"},"mark":{"type":"circle","style":"grey"}}]},
  {"width":217.3,"height":140.7,"encoding":{"x":{"field":"x","type":"quantitative","axis":{"title":"t =18"},"scale":{"domain":[47,699],"nice":false,"zero":false}},"y":{"field":"y","type":"quantitative","axis":null,"scale":{"domain":[441,26],"nice":false,"zero":false}}},"layer":[{"data":{"name":"c8"},"mark":{"type":"circle","style":"halo"}},{"data":{"name":"c8"},"mark":{"type":"circle","style":"core"}},{"data":{"name":"b8"},"mark":{"type":"circle","style":"blue"}},{"data":{"name":"g8"},"mark":{"type":"circle","style":"grey"}}]}]},
{"bounds":"flush","spacing":27,"hconcat":[
  {"width":224.3,"height":140.7,"encoding":{"x":{"field":"x","type":"quantitative","axis":null,"scale":{"domain":[99,772],"nice":false,"zero":false}},"y":{"field":"y","type":"quantitative","axis":{"title":"t + τ =17"},"scale":{"domain":[438,16],"nice":false,"zero":false}}},"layer":[{"data":{"name":"c9"},"mark":{"type":"circle","style":"halo"}},{"data":{"name":"c9"},"mark":{"type":"circle","style":"core"}},{"data":{"name":"b9"},"mark":{"type":"circle","style":"blue"}},{"data":{"name":"g9"},"mark":{"type":"circle","style":"grey"}}]},
  {"width":223.7,"height":140.7,"encoding":{"x":{"field":"x","type":"quantitative","axis":null,"scale":{"domain":[853,1525],"nice":false,"zero":false}},"y":{"field":"y","type":"quantitative","axis":null,"scale":{"domain":[438,16],"nice":false,"zero":false}}},"layer":[{"data":{"name":"c10"},"mark":{"type":"circle","style":"halo"}},{"data":{"name":"c10"},"mark":{"type":"circle","style":"core"}},{"data":{"name":"b10"},"mark":{"type":"circle","style":"blue"}},{"data":{"name":"g10"},"mark":{"type":"circle","style":"grey"}}]},
  {"width":223.7,"height":140.7,"encoding":{"x":{"field":"x","type":"quantitative","axis":{"title":"t =16"},"scale":{"domain":[16,687],"nice":false,"zero":false}},"y":{"field":"y","type":"quantitative","axis":null,"scale":{"domain":[438,16],"nice":false,"zero":false}}},"layer":[{"data":{"name":"c11"},"mark":{"type":"circle","style":"halo"}},{"data":{"name":"c11"},"mark":{"type":"circle","style":"core"}},{"data":{"name":"b11"},"mark":{"type":"circle","style":"blue"}},{"data":{"name":"g11"},"mark":{"type":"circle","style":"grey"}}]}]},
{"bounds":"flush","spacing":0,"hconcat":[{"data":{"values":[]},"mark":"point","width":4.6,"height":1,"view":{"stroke":null}},
 {"bounds":"flush","spacing":34,"hconcat":[
  {"width":216,"height":140.7,"encoding":{"x":{"field":"x","type":"quantitative","axis":null,"scale":{"domain":[112,760],"nice":false,"zero":false}},"y":{"field":"y","type":"quantitative","axis":{"title":"t + τ =15"},"scale":{"domain":[437,16],"nice":false,"zero":false}}},"layer":[{"data":{"name":"c12"},"mark":{"type":"circle","style":"halo"}},{"data":{"name":"c12"},"mark":{"type":"circle","style":"core"}},{"data":{"name":"b12"},"mark":{"type":"circle","style":"blue"}},{"data":{"name":"g12"},"mark":{"type":"circle","style":"grey"}}]},
  {"width":217,"height":140.7,"encoding":{"x":{"field":"x","type":"quantitative","axis":{"title":"t =14"},"scale":{"domain":[862,1513],"nice":false,"zero":false}},"y":{"field":"y","type":"quantitative","axis":null,"scale":{"domain":[437,16],"nice":false,"zero":false}}},"layer":[{"data":{"name":"c13"},"mark":{"type":"circle","style":"halo"}},{"data":{"name":"c13"},"mark":{"type":"circle","style":"core"}},{"data":{"name":"b13"},"mark":{"type":"circle","style":"blue"}},{"data":{"name":"g13"},"mark":{"type":"circle","style":"grey"}}]}]}]},
{"bounds":"flush","spacing":0,"hconcat":[{"data":{"values":[]},"mark":"point","width":9,"height":1,"view":{"stroke":null}},
  {"width":206.6,"height":140.7,"encoding":{"x":{"field":"x","type":"quantitative","axis":{"title":"t =12"},"scale":{"domain":[125,745],"nice":false,"zero":false}},"y":{"field":"y","type":"quantitative","axis":{"title":"t + τ =13"},"scale":{"domain":[468,47],"nice":false,"zero":false}}},"layer":[{"data":{"name":"c14"},"mark":{"type":"circle","style":"halo"}},{"data":{"name":"c14"},"mark":{"type":"circle","style":"core"}},{"data":{"name":"b14"},"mark":{"type":"circle","style":"blue"}},{"data":{"name":"g14"},"mark":{"type":"circle","style":"grey"}}]}]}
]}
